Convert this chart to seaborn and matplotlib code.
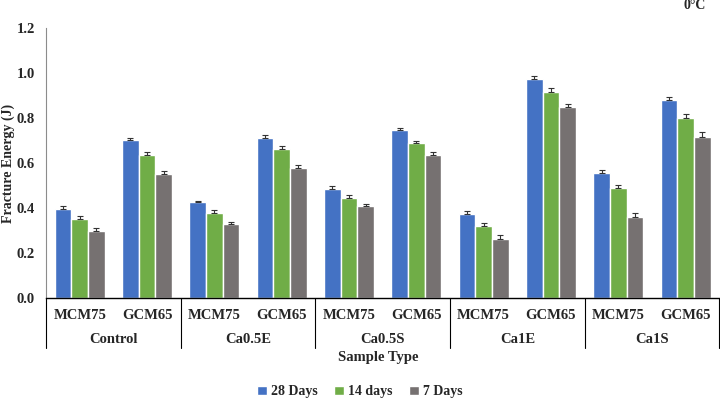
import numpy as np
import pandas as pd
import matplotlib
matplotlib.use("Agg")
import matplotlib.pyplot as plt
import seaborn as sns

groups = ["Control", "Ca0.5E", "Ca0.5S", "Ca1E", "Ca1S"]
mixes = ["MCM75", "GCM65"]
series = ["28 Days", "14 days", "7 Days"]

# values ordered: Control-MCM75, Control-GCM65, Ca0.5E-MCM75, ...
days28 = [0.397, 0.702, 0.425, 0.710, 0.483, 0.745, 0.375, 0.973, 0.556, 0.880]
days14 = [0.350, 0.634, 0.376, 0.661, 0.446, 0.687, 0.320, 0.917, 0.487, 0.799]
days7 = [0.300, 0.551, 0.327, 0.576, 0.408, 0.634, 0.262, 0.847, 0.360, 0.714]

err28 = [0.013, 0.010, 0.005, 0.013, 0.013, 0.012, 0.011, 0.013, 0.012, 0.013]
err14 = [0.013, 0.013, 0.013, 0.013, 0.013, 0.010, 0.012, 0.016, 0.015, 0.019]
err7 = [0.009, 0.013, 0.013, 0.013, 0.012, 0.016, 0.016, 0.016, 0.018, 0.022]

colors = ["#4472C4", "#70AD47", "#767171"]

sns.set_style("white")
plt.rcParams["font.family"] = ["Liberation Serif", "DejaVu Serif"]
plt.rcParams["font.weight"] = "bold"

cats = [f"{g}|{m}" for g in groups for m in mixes]
rows = []
for s, vals, errs in zip(series, [days28, days14, days7], [err28, err14, err7]):
    for c, v, e in zip(cats, vals, errs):
        rows.append({"cat": c, "series": s, "value": v, "err": e})
df = pd.DataFrame(rows)

fig = plt.figure(figsize=(7.2, 3.99), dpi=100)
ax = fig.add_axes([0.064, 0.253, 0.935, 0.677])

sns.barplot(data=df, x="cat", y="value", hue="series", order=cats,
            hue_order=series, palette=colors, width=0.74, errorbar=None,
            saturation=1, ax=ax, legend=True)

# error bars at bar centres
for i, s in enumerate(series):
    cont = ax.containers[i]
    sub = df[df.series == s].set_index("cat").loc[cats]
    xs = [p.get_x() + p.get_width() / 2 for p in cont.patches]
    ax.errorbar(xs, sub["value"].values, yerr=[np.zeros(len(cats)), sub["err"].values],
                fmt="none", ecolor="#333333", elinewidth=0.8, capsize=2.5, capthick=0.8)

ax.set_xlim(-0.5, len(cats) - 0.5)
ax.set_ylim(0, 1.2)
ax.set_yticks(np.arange(0, 1.21, 0.2))
ax.set_yticklabels([f"{v:.1f}" for v in np.arange(0, 1.21, 0.2)], fontsize=10.5, fontweight="bold")
ax.set_xticks([])
ax.set_xlabel("")
ax.set_ylabel("Fracture Energy (J)", fontsize=10, fontweight="bold")
ax.yaxis.set_label_coords(-0.0465, 0.5)
ax.tick_params(axis="y", length=0, pad=8)

for sp in ["top", "right"]:
    ax.spines[sp].set_visible(False)
ax.spines["left"].set_color("#8c8c8c")
ax.spines["left"].set_linewidth(0.8)
ax.spines["bottom"].set_color("black")
ax.spines["bottom"].set_linewidth(1.0)

tr = ax.get_xaxis_transform()
for i, c in enumerate(cats):
    ax.text(i, -0.063, c.split("|")[1], transform=tr, ha="center", va="center",
            fontsize=10.5, fontweight="bold")
for gi, g in enumerate(groups):
    ax.text(gi * 2 + 0.5, -0.155, g, transform=tr, ha="center", va="center",
            fontsize=10.5, fontweight="bold")
for b in np.arange(-0.5, len(cats), 2):
    ax.plot([b, b], [0, -0.185], transform=tr, color="black", lw=0.8, clip_on=False)

fig.text(0.525, 0.103, "Sample Type", ha="center", va="center", fontsize=10.5, fontweight="bold")
fig.text(0.965, 0.985, "0°C", ha="center", va="center", fontsize=10, fontweight="bold")

handles, labels = ax.get_legend_handles_labels()
ax.get_legend().remove()
fig.legend(handles, labels, loc="center", bbox_to_anchor=(0.5, 0.018), ncol=3,
           frameon=False, handlelength=0.7, handleheight=0.7, handletextpad=0.3,
           columnspacing=1.2, prop={"size": 10, "weight": "bold"})

fig.savefig("out.png", dpi=100)
